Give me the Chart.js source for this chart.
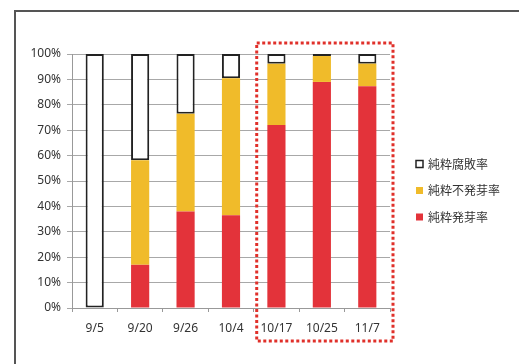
<!DOCTYPE html>
<html>
<head>
<meta charset="utf-8">
<script src="https://cdn.jsdelivr.net/npm/chart.js@4"></script>
<style>
  body { margin: 0; background: #fff; }
  #wrap { width: 519px; height: 364px; }
</style>
</head>
<body>
<div id="wrap"><canvas id="chart"></canvas></div>
<script>
const dates = ['9/5', '9/20', '9/26', '10/4', '10/17', '10/25', '11/7'];
const germinated = [0, 17, 38, 36.5, 72, 89, 87.3];
const notGerminated = [0, 41.2, 38.5, 54, 24.2, 10.2, 8.9];
const rotten = [100, 41.8, 23.5, 9.5, 3.8, 0.8, 3.8];
const yTicks = [0, 10, 20, 30, 40, 50, 60, 70, 80, 90, 100];

const RED = '#e3333a';
const YELLOW = '#f0bb2a';

// frame + dotted box around the last three dates + legend on the right
const extras = {
  id: 'extras',
  beforeDraw(chart) {
    const ctx = chart.ctx;
    ctx.save();
    ctx.strokeStyle = '#555';
    ctx.lineWidth = 2;
    ctx.beginPath();
    ctx.moveTo(15, 364);
    ctx.lineTo(15, 11);
    ctx.lineTo(519, 11);
    ctx.stroke();
    ctx.restore();
  },
  afterDraw(chart) {
    const ctx = chart.ctx;
    const x = chart.scales.x, y = chart.scales.y;
    const area = chart.chartArea;
    const left = (x.getPixelForValue(3) + x.getPixelForValue(4)) / 2 + 3;
    const right = area.right + 3;
    const top = y.getPixelForValue(100) - 11;
    const bottom = area.bottom + 33;
    ctx.save();
    ctx.strokeStyle = '#e0302a';
    ctx.lineWidth = 3;
    ctx.setLineDash([3, 2.5]);
    ctx.strokeRect(left, top, right - left, bottom - top);
    ctx.restore();

    // legend, reversed order like the original
    const items = chart.data.datasets.slice().reverse();
    ctx.save();
    ctx.font = '12px "Noto Sans CJK JP"';
    ctx.textBaseline = 'middle';
    items.forEach((ds, i) => {
      const cy = 164 + i * 26.5;
      ctx.fillStyle = ds.backgroundColor;
      ctx.fillRect(416, cy - 3.5, 7, 7);
      if (ds.borderWidth) {
        ctx.strokeStyle = ds.borderColor;
        ctx.lineWidth = 1.5;
        ctx.strokeRect(416, cy - 3.5, 7, 7);
      }
      ctx.fillStyle = '#333';
      ctx.fillText(ds.label, 428, cy);
    });
    ctx.restore();
  }
};

new Chart(document.getElementById('chart'), {
  type: 'bar',
  data: {
    labels: dates,
    datasets: [{
      label: '純粋発芽率',
      data: germinated,
      backgroundColor: RED,
      borderWidth: 0
    }, {
      label: '純粋不発芽率',
      data: notGerminated,
      backgroundColor: YELLOW,
      borderWidth: 0
    }, {
      label: '純粋腐敗率',
      data: rotten,
      backgroundColor: '#ffffff',
      borderColor: '#222',
      borderWidth: 2,
      borderSkipped: false
    }]
  },
  options: {
    responsive: true,
    maintainAspectRatio: false,
    animation: false,
    categoryPercentage: 0.8,
    barPercentage: 0.5,
    layout: { padding: { top: 54, right: 129, left: 0, bottom: 0 } },
    plugins: {
      legend: { display: false },
      tooltip: { enabled: false }
    },
    scales: {
      x: {
        stacked: true,
        afterFit: s => { s.height = 56; },
        grid: { drawOnChartArea: false, drawTicks: true, tickLength: 4, color: '#999' },
        border: { color: '#999', width: 1 },
        ticks: { padding: 9, color: '#333', font: { family: 'Noto Sans', size: 12 } }
      },
      y: {
        stacked: true,
        min: 0,
        max: 100,
        afterFit: s => { s.width = 72; },
        afterBuildTicks: s => { s.ticks = yTicks.map(v => ({ value: v })); },
        grid: { color: '#a8a8a8', tickLength: 5 },
        border: { color: '#999', width: 1 },
        ticks: {
          padding: 6,
          color: '#333',
          font: { family: 'Noto Sans', size: 12 },
          callback: v => v + '%'
        }
      }
    }
  },
  plugins: [extras]
});
</script>
</body>
</html>
